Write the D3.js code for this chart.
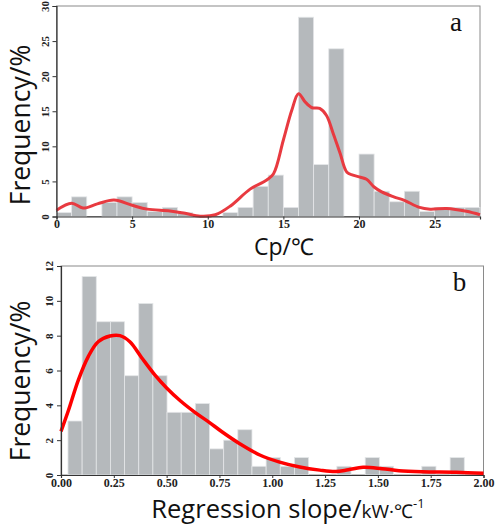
<!DOCTYPE html>
<html>
<head>
<meta charset="utf-8">
<script src="https://cdn.jsdelivr.net/npm/d3@7"></script>
<style>
  html, body { margin: 0; padding: 0; background: #fff; }
  svg { display: block; }
</style>
</head>
<body>
<svg id="chart" width="497" height="526"></svg>
<script>
// ---------- Data: panel a (Cp / °C) ----------
const cpBinStart = 0;
const cpBinWidth = 1;
const cpFreq = [0.55, 2.8, 0, 2.0, 2.8, 2.0, 0.7, 1.3, 0.55, 0, 0, 0.55, 1.3, 4.3, 5.9, 1.3,
                28.4, 7.4, 23.9, 0, 8.9, 3.6, 2.1, 3.6, 0.7, 1.3, 1.3, 1.3];
const cpCurve = [[0,0.9],[1.0,1.9],[1.75,1.2],[2.7,1.8],[3.8,2.35],[5,1.6],[6,1.05],[7.5,0.8],
  [8.5,0.45],[9.5,0.05],[10.5,0.25],[11.5,1.5],[12.8,3.9],[13.9,5.2],[14.35,6.1],[15.0,10.9],
  [15.55,15.1],[16.0,17.5],[16.45,16.3],[16.9,15.5],[17.4,15.4],[17.85,14.4],[18.3,11.8],
  [18.75,9.0],[19.2,6.3],[19.6,5.9],[20.1,5.6],[20.5,5.3],[21.0,4.2],[21.5,3.5],[22.3,2.8],
  [23.0,2.3],[24.0,1.3],[24.7,1.05],[25.8,1.15],[27.1,0.75],[28,0.25]];
const cpXTicks = [0, 5, 10, 15, 20, 25];
const cpYTicks = [0, 5, 10, 15, 20, 25, 30];

// ---------- Data: panel b (Regression slope) ----------
const slBinStart = 0.033;
const slBinWidth = 0.067;
const slFreq = [3.1, 11.4, 8.8, 8.8, 5.7, 9.85, 5.7, 3.6, 3.6, 4.1, 1.5, 2.0, 2.6, 0.5,
                1.0, 0.5, 1.0, 0, 0, 0.5, 0, 1.0, 0.5, 0, 0, 0.5, 0, 1.0];
const slCurve = [[0,2.5],[0.035,3.7],[0.082,5.45],[0.129,6.8],[0.176,7.65],[0.232,7.98],
  [0.279,8.0],[0.326,7.65],[0.381,6.75],[0.444,5.75],[0.5,5.0],[0.566,4.25],[0.634,3.6],
  [0.70,3.04],[0.76,2.5],[0.846,1.8],[0.941,1.15],[1.035,0.74],[1.13,0.46],[1.225,0.28],
  [1.30,0.2],[1.36,0.3],[1.43,0.44],[1.52,0.36],[1.60,0.25],[1.71,0.19],[1.87,0.16],[2.0,0.1]];
const slXTicks = [0, 0.25, 0.5, 0.75, 1.0, 1.25, 1.5, 1.75, 2.0];
const slYTicks = [0, 2, 4, 6, 8, 10, 12];

const svg = d3.select("#chart");
const serif = "'Liberation Serif','Times New Roman',serif";
const sans = "'Open Sans','Lato',sans-serif";

function panel(cfg) {
  const x = d3.scaleLinear().domain(cfg.xDomain).range([cfg.left, cfg.right]);
  const y = d3.scaleLinear().domain(cfg.yDomain).range([cfg.bottom, cfg.top]);
  const g = svg.append("g");

  // frame (top/right light border)
  g.append("rect")
    .attr("x", cfg.left).attr("y", cfg.top)
    .attr("width", cfg.right - cfg.left).attr("height", cfg.bottom - cfg.top)
    .attr("fill", "none").attr("stroke", "#8a8a8a").attr("stroke-width", 1);

  // bars
  g.selectAll("rect.bar").data(cfg.freq.map((v, i) => ({i, v})).filter(d => d.v > 0))
    .enter().append("rect").attr("class", "bar")
    .attr("x", d => x(cfg.binStart + d.i * cfg.binWidth))
    .attr("width", d => x(cfg.binStart + (d.i + 1) * cfg.binWidth) - x(cfg.binStart + d.i * cfg.binWidth))
    .attr("y", d => y(d.v))
    .attr("height", d => y(0) - y(d.v))
    .attr("fill", "#b5b9bc")
    .attr("stroke", "#e4e6e8")
    .attr("stroke-width", 0.8);

  // curve
  g.append("path").datum(cfg.curve)
    .attr("d", d3.line().x(d => x(d[0])).y(d => y(d[1])).curve(d3.curveCatmullRom.alpha(0.5)))
    .attr("fill", "none").attr("stroke", cfg.curveColor)
    .attr("stroke-width", cfg.curveWidth).attr("stroke-linejoin", "round");

  // x axis
  const xa = g.append("g").attr("transform", `translate(0,${cfg.bottom})`)
    .call(d3.axisBottom(x).tickValues(cfg.xTicks).tickSize(3).tickPadding(0).tickFormat(cfg.xFormat));
  xa.select(".domain").attr("stroke", "#333").attr("stroke-width", 1.2);
  xa.selectAll("line").attr("stroke", "#333");
  xa.selectAll("text").attr("font-family", serif).attr("font-weight", "bold")
    .attr("font-size", 12).attr("fill", "#222");

  // y axis
  const ya = g.append("g").attr("transform", `translate(${cfg.left},0)`)
    .call(d3.axisLeft(y).tickValues(cfg.yTicks).tickSize(4));
  ya.select(".domain").attr("stroke", "#333").attr("stroke-width", 1.2);
  ya.selectAll("line").attr("stroke", "#333");
  ya.selectAll("text")
    .attr("transform", "rotate(-90)")
    .attr("x", 0).attr("y", -8).attr("dy", 0)
    .attr("text-anchor", "middle")
    .attr("font-family", serif).attr("font-weight", "bold")
    .attr("font-size", 11).attr("fill", "#222");

  // y title
  g.append("text")
    .attr("transform", `translate(30,${cfg.yTitleY}) rotate(-90)`)
    .attr("text-anchor", "middle")
    .attr("font-family", sans).attr("font-size", 26.5).attr("fill", "#111")
    .text("Frequency/%");

  // panel letter
  g.append("text").attr("x", cfg.right - 24).attr("y", cfg.top + 25)
    .attr("text-anchor", "middle")
    .attr("font-family", serif).attr("font-size", 27).attr("fill", "#111")
    .text(cfg.letter);
  return {x, y, g};
}

panel({
  left: 56.5, right: 480, top: 6, bottom: 216.5,
  xDomain: [0, 28], yDomain: [0, 30],
  freq: cpFreq, binStart: cpBinStart, binWidth: cpBinWidth,
  curve: cpCurve, curveColor: "#e83a40", curveWidth: 3,
  xTicks: cpXTicks, yTicks: cpYTicks, xFormat: d3.format("d"),
  yTitleY: 125, letter: "a"
});

panel({
  left: 61, right: 483.5, top: 266, bottom: 475,
  xDomain: [0, 2], yDomain: [0, 12],
  freq: slFreq, binStart: slBinStart, binWidth: slBinWidth,
  curve: slCurve, curveColor: "#ff0000", curveWidth: 3.5,
  xTicks: slXTicks, yTicks: slYTicks, xFormat: d3.format(".2f"),
  yTitleY: 381, letter: "b"
});

// x titles
svg.append("text").attr("x", 284).attr("y", 255)
  .attr("text-anchor", "middle")
  .attr("font-family", sans).attr("font-size", 23).attr("fill", "#111")
  .text("Cp/℃");

const xt = svg.append("text").attr("x", 288).attr("y", 518)
  .attr("text-anchor", "middle")
  .attr("font-family", sans).attr("fill", "#111");
xt.append("tspan").attr("font-size", 25.5).text("Regression slope/");
xt.append("tspan").attr("font-size", 19).text("kW·℃");
xt.append("tspan").attr("font-size", 13).attr("dy", -10).text("-1");
</script>
</body>
</html>
